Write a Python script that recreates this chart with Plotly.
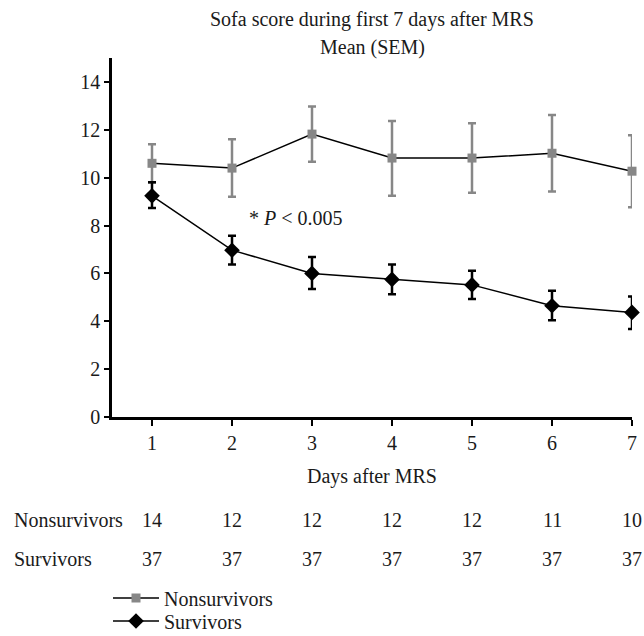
import plotly.graph_objects as go

days = [1, 2, 3, 4, 5, 6, 7]
non_mean = [10.6, 10.4, 11.82, 10.82, 10.82, 11.02, 10.27]
non_up = [0.8, 1.2, 1.15, 1.55, 1.45, 1.6, 1.5]
non_down = [0.8, 1.2, 1.16, 1.58, 1.45, 1.6, 1.51]
surv_mean = [9.24, 6.97, 6.0, 5.75, 5.52, 4.65, 4.37]
surv_up = [0.57, 0.6, 0.69, 0.62, 0.59, 0.63, 0.66]
surv_down = [0.51, 0.6, 0.65, 0.62, 0.59, 0.61, 0.69]
n_non = [14, 12, 12, 12, 12, 11, 10]
n_surv = [37, 37, 37, 37, 37, 37, 37]
row_labels = ["Nonsurvivors", "Survivors"]

FONT = "Liberation Serif"
TXT = "#1a1a1a"
GRAY = "#878787"
FS = 20

# plot area: x 112..632, y 58..417 (px)
PT, PB, PL, PR = 58, 417, 112, 632
PH, PW = PB - PT, PR - PL


def py(px):
    return (PB - px) / PH


def pxx(px):
    return (px - PL) / PW


fig = go.Figure()
fig.add_trace(go.Scatter(
    x=days, y=non_mean, mode="lines+markers", name="Nonsurvivors",
    cliponaxis=False, legend="legend",
    line=dict(color="black", width=1.5),
    marker=dict(symbol="square", size=9, color=GRAY),
    error_y=dict(type="data", array=non_up, arrayminus=non_down,
                 color=GRAY, thickness=2.5, width=4),
))
fig.add_trace(go.Scatter(
    x=days, y=surv_mean, mode="lines+markers", name="Survivors",
    cliponaxis=False, legend="legend2",
    line=dict(color="black", width=1.5),
    marker=dict(symbol="diamond", size=12, color="black"),
    error_y=dict(type="data", array=surv_up, arrayminus=surv_down,
                 color="black", thickness=2.5, width=4),
))

fig.add_annotation(x=2.8, y=8.3, xref="x", yref="y",
                   text="* <i>P</i> < 0.005", showarrow=False,
                   xanchor="center", yanchor="middle",
                   font=dict(family=FONT, size=FS, color=TXT))

fig.add_annotation(x=0.5, y=py(19), xref="paper", yref="paper",
                   text="Sofa score during first 7 days after MRS",
                   xanchor="center", yanchor="middle",
                   showarrow=False, font=dict(family=FONT, size=FS, color=TXT))
fig.add_annotation(x=0.5, y=py(47), xref="paper", yref="paper",
                   text="Mean (SEM)", xanchor="center", yanchor="middle",
                   showarrow=False, font=dict(family=FONT, size=FS, color=TXT))

fig.add_annotation(x=0.5, y=py(477), xref="paper", yref="paper",
                   text="Days after MRS", showarrow=False,
                   xanchor="center", yanchor="middle",
                   font=dict(family=FONT, size=FS, color=TXT))

row_y = [py(520), py(559)]
for lab, yy, vals in zip(row_labels, row_y, [n_non, n_surv]):
    fig.add_annotation(x=pxx(12), y=yy, xref="paper", yref="paper",
                       xanchor="left", yanchor="middle",
                       text=lab, showarrow=False,
                       font=dict(family=FONT, size=FS, color=TXT))
    for d, v in zip(days, vals):
        fig.add_annotation(x=d, y=yy, xref="x", yref="paper", text=str(v),
                           showarrow=False, xanchor="center", yanchor="middle",
                           font=dict(family=FONT, size=FS, color=TXT))

leg_common = dict(xanchor="left", yanchor="middle",
                  font=dict(family=FONT, size=FS, color=TXT),
                  itemwidth=46, bgcolor="rgba(0,0,0,0)")

fig.update_layout(
    width=644, height=636,
    margin=dict(l=PL, r=644 - PR, t=PT, b=636 - PB, autoexpand=False),
    paper_bgcolor="white", plot_bgcolor="white",
    font=dict(family=FONT, size=FS, color=TXT),
    showlegend=True,
    legend=dict(x=pxx(108), y=py(598), **leg_common),
    legend2=dict(x=pxx(108), y=py(621), **leg_common),
    xaxis=dict(range=[0.5, 7.0], tickvals=days, ticks="outside", ticklen=6,
               tickwidth=2, tickcolor="black", showline=True, linecolor="black",
               linewidth=2.5, showgrid=False, zeroline=False,
               tickfont=dict(family=FONT, size=FS, color=TXT)),
    yaxis=dict(range=[0, 15], tickvals=[0, 2, 4, 6, 8, 10, 12, 14], ticks="outside",
               ticklen=5, tickwidth=2, tickcolor="black", showline=True,
               linecolor="black", linewidth=2.5, showgrid=False, zeroline=False,
               tickfont=dict(family=FONT, size=FS, color=TXT)),
)

fig.write_html("out.html", config={"displayModeBar": False},
               post_script="document.body.style.margin='0';")
